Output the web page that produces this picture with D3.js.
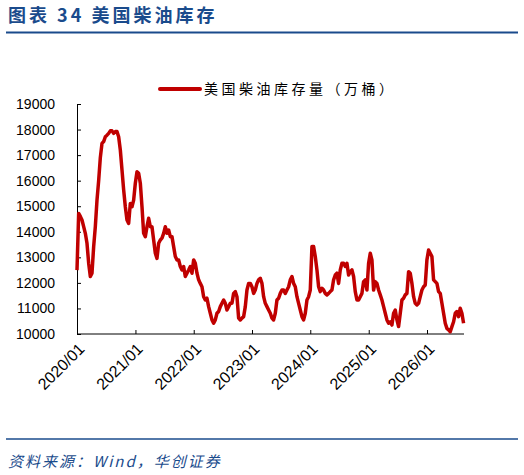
<!DOCTYPE html>
<html><head><meta charset="utf-8">
<script src="https://cdn.jsdelivr.net/npm/d3@7"></script>
<style>body{margin:0;background:#fff}</style></head>
<body><svg id="c" width="524" height="475"></svg>
<script>
const title = "图表 34 美国柴油库存";
const seriesName = "美国柴油库存量（万桶）";
const source = "资料来源：Wind，华创证券";
const yTicks = [10000,11000,12000,13000,14000,15000,16000,17000,18000,19000];
const xTickLabels = ["2020/01","2021/01","2022/01","2023/01","2024/01","2025/01","2026/01"];
const startDate = "2020-01-01";
const stepDays = 365.25/35;
const values = [12500,14720,14600,14460,14200,13940,13550,12770,12250,12380,13420,14200,15240,16000,16900,17460,17530,17720,17780,17850,17950,17950,17850,17920,17920,17720,17200,16420,15640,14980,14460,14330,15110,14980,15240,15900,16350,16290,15900,14980,13940,13810,14200,14530,14200,14200,13680,13160,12960,13550,13680,13750,13940,14200,13940,14070,13810,13810,13420,13030,12900,12900,12640,12510,12640,12250,12380,12500,12640,12380,12900,12770,12380,12120,11980,11850,11460,11330,11400,11070,10810,10550,10420,10550,10810,10880,11070,11200,11330,11200,10940,11070,11200,11200,11590,11660,11460,10620,10550,10620,10680,11070,11720,11980,11980,11850,11590,11720,11980,12120,12180,11980,11460,11200,11070,10940,10810,10620,10550,10810,11330,11400,11590,11720,11720,11590,11720,11850,12120,12250,11980,11850,11460,11200,10940,10680,10550,10810,11330,11460,11720,13420,13420,13030,12510,11850,11660,11790,11720,11590,11530,11590,11660,11720,12120,12310,12380,11980,12510,12770,12770,12640,12770,12310,12440,12510,12250,11660,11330,11330,11460,11590,12050,12120,11720,12770,13160,12900,11720,12050,11980,11720,11530,11330,11070,10810,10550,10420,10480,10350,10810,10940,10550,10290,10810,11330,11400,11530,11590,12440,12380,11980,11460,11200,11140,11200,11460,11720,11850,11920,12900,13290,13160,13030,12120,12050,11980,11660,11590,11200,10810,10420,10220,10160,10090,10290,10480,10810,10880,10680,11010,10810,10420];

const svg = d3.select("#c");
const blue = "#1a4b8c";
const t0 = new Date(startDate);
const data = values.map((v,i)=>({d:new Date(t0.getTime()+i*stepDays*864e5), v}));
const x = d3.scaleTime().domain([new Date("2020-01-01"), new Date("2026-01-01")]).range([77,427]);
const y = d3.scaleLinear().domain([10000,19000]).range([334,104]);

svg.append("text").attr("x",8).attr("y",22).attr("fill",blue).attr("font-size",18).attr("font-weight","bold")
  .attr("letter-spacing",3).attr("font-family","Noto Sans CJK SC, serif").text(title);
svg.append("line").attr("x1",6).attr("x2",518).attr("y1",32.5).attr("y2",32.5).attr("stroke",blue).attr("stroke-width",2);

const ya = svg.append("g").attr("transform","translate(77,0)")
  .call(d3.axisLeft(y).tickValues(yTicks).tickSize(-4).tickPadding(22).tickFormat(d3.format("d")));
ya.selectAll("text").attr("font-size",14).attr("font-family","Liberation Sans, Arial").attr("fill","#000");
ya.selectAll("line,path").attr("stroke","#000");

const xa = svg.append("g").attr("transform","translate(0,334)")
  .call(d3.axisBottom(x).tickValues(xTickLabels.map(s=>new Date(s.replace("/","-")+"-01"))).tickSize(-4).tickFormat((d,i)=>xTickLabels[i]));
xa.select("path").attr("d","M77,0H464").attr("stroke","#000");
xa.selectAll("line").attr("stroke","#000");
xa.selectAll("text").attr("font-size",16).attr("font-family","Liberation Sans, Arial").attr("fill","#000")
  .attr("text-anchor","end").attr("transform","translate(4,12) rotate(-45)").attr("dy","0.35em").attr("y",0).attr("x",0);

svg.append("path").datum(data).attr("fill","none").attr("stroke","#c00000").attr("stroke-width",3.5)
  .attr("stroke-linejoin","round")
  .attr("d", d3.line().x(d=>x(d.d)).y(d=>y(d.v)));

svg.append("line").attr("x1",160).attr("x2",200).attr("y1",89).attr("y2",89).attr("stroke","#c00000").attr("stroke-width",4).attr("stroke-linecap","round");
svg.append("text").attr("x",204).attr("y",94).attr("font-size",14).attr("letter-spacing",3.5).attr("font-family","Noto Sans CJK SC").attr("fill","#000").text(seriesName);

svg.append("line").attr("x1",6).attr("x2",518).attr("y1",439).attr("y2",439).attr("stroke",blue).attr("stroke-width",1.5);
svg.append("text").attr("x",8).attr("y",467).attr("font-size",15).attr("letter-spacing",2).attr("font-style","italic").attr("fill",blue)
  .attr("font-family","Noto Sans CJK SC, serif").text(source);
</script></body></html>
